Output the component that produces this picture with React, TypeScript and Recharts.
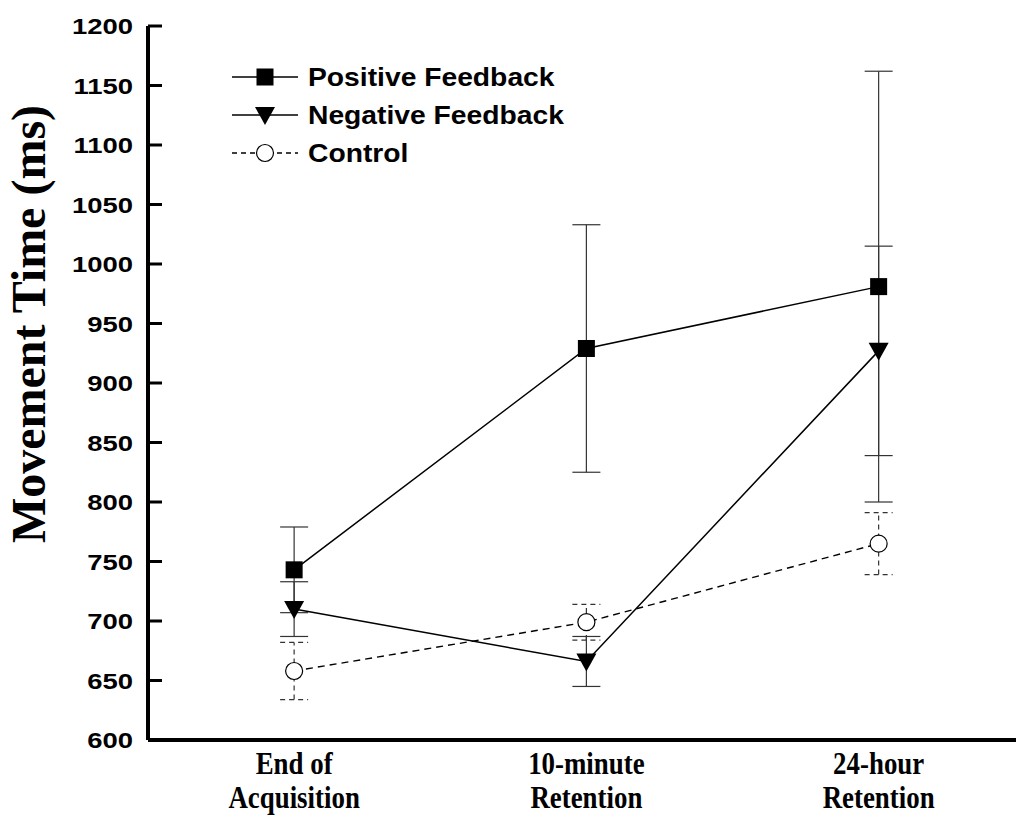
import React from 'react';
import { LineChart, Line, XAxis, YAxis, ErrorBar, Label } from 'recharts';

const categoryLines: string[][] = [
  ['End of', 'Acquisition'],
  ['10-minute', 'Retention'],
  ['24-hour', 'Retention'],
];
const positive = [743, 929, 981];
const positiveErr = [36, 104, 181];
const negative = [710, 666, 927];
const negativeErr = [23, 21, 88];
const control = [658, 699, 765];
const controlErr = [24, 15, 26];
const yTicks = [600, 650, 700, 750, 800, 850, 900, 950, 1000, 1050, 1100, 1150, 1200];
const seriesNames = ['Positive Feedback', 'Negative Feedback', 'Control'];

const data = categoryLines.map((_, i) => ({
  x: i,
  pos: positive[i],
  posErr: positiveErr[i],
  neg: negative[i],
  negErr: negativeErr[i],
  ctrl: control[i],
  ctrlErr: controlErr[i],
}));

const SANS = "'Liberation Sans', Arial, sans-serif";
const SERIF = "'Liberation Serif', 'Times New Roman', serif";

const Square = ({ cx, cy }: { cx: number; cy: number }) => (
  <rect x={cx - 8.5} y={cy - 8.5} width={17} height={17} fill="#000" />
);
const Triangle = ({ cx, cy }: { cx: number; cy: number }) => (
  <polygon points={`${cx - 10},${cy - 8} ${cx + 10},${cy - 8} ${cx},${cy + 10}`} fill="#000" />
);
const Circle = ({ cx, cy }: { cx: number; cy: number }) => (
  <circle cx={cx} cy={cy} r={8.5} fill="#fff" stroke="#000" strokeWidth={1.2} />
);

const makeDot = (Shape: any) => (props: any) => {
  const { cx, cy, index } = props;
  if (cx == null || cy == null) return <g key={`d-${index}`} />;
  return (
    <g key={`d-${index}`}>
      <Shape cx={cx} cy={cy} />
    </g>
  );
};

const YTick = (props: any) => {
  const { x, y, payload } = props;
  return (
    <g>
      <line x1={x} x2={x + 14} y1={y} y2={y} stroke="#000" strokeWidth={3} />
      <text
        transform={`translate(${x - 15},${y + 8}) scale(1.22,1)`}
        textAnchor="end"
        fontFamily={SANS}
        fontWeight="bold"
        fontSize={22.5}
        fill="#000"
      >
        {payload.value}
      </text>
    </g>
  );
};

const XTick = (props: any) => {
  const { x, y, payload } = props;
  const lines = categoryLines[payload.value] || [];
  return (
    <g>
      {lines.map((t, i) => (
        <text
          key={i}
          transform={`translate(${x},${y + 34 + i * 34}) scale(0.84,1)`}
          textAnchor="middle"
          fontFamily={SERIF}
          fontWeight="bold"
          fontSize={32}
          fill="#000"
        >
          {t}
        </text>
      ))}
    </g>
  );
};

const YLabel = () => {
  const cx = 45;
  const cy = 324;
  return (
    <text
      x={cx}
      y={cy}
      transform={`rotate(-90, ${cx}, ${cy})`}
      textAnchor="middle"
      fontFamily={SERIF}
      fontWeight="bold"
      fontSize={48}
      fill="#000"
    >
      Movement Time (ms)
    </text>
  );
};

const LegendBox = () => {
  const shapes = [Square, Triangle, Circle];
  const dashes = [undefined, undefined, '5 4'];
  return (
    <div style={{ position: 'absolute', left: 226, top: 58, display: 'flex', flexDirection: 'column' }}>
      {seriesNames.map((name, i) => {
        const S = shapes[i];
        return (
          <div key={name} style={{ display: 'flex', alignItems: 'center', height: 38 }}>
            <svg width={82} height={38} style={{ display: 'block' }}>
              <line x1={6} x2={72} y1={19} y2={19} stroke="#000" strokeWidth={1.5} strokeDasharray={dashes[i]} />
              <S cx={39} cy={19} />
            </svg>
            <span
              style={{
                fontFamily: SANS,
                fontWeight: 'bold',
                fontSize: 25,
                color: '#000',
                lineHeight: '38px',
                whiteSpace: 'nowrap',
                display: 'inline-block',
                transform: 'scaleX(1.13)',
                transformOrigin: 'left center',
              }}
            >
              {name}
            </span>
          </div>
        );
      })}
    </div>
  );
};

export default function App() {
  return (
    <div style={{ position: 'absolute', left: 0, top: 0, width: 1018, height: 817, background: '#fff' }}>
      <LineChart width={1018} height={817} data={data} margin={{ top: 26, right: 2, bottom: 0, left: 8 }}>
        <XAxis
          dataKey="x"
          type="number"
          domain={[-0.5, 2.47]}
          ticks={[0, 1, 2]}
          allowDataOverflow
          tickLine={false}
          tickSize={0}
          tickMargin={0}
          axisLine={{ stroke: '#000', strokeWidth: 4 }}
          tick={<XTick />}
          interval={0}
          height={77}
        />
        <YAxis
          type="number"
          domain={[600, 1200]}
          ticks={yTicks}
          width={140}
          tickLine={false}
          tickSize={0}
          tickMargin={0}
          axisLine={{ stroke: '#000', strokeWidth: 4 }}
          tick={<YTick />}
          interval={0}
        >
          <Label content={<YLabel />} />
        </YAxis>
        <Line
          dataKey="ctrl"
          stroke="#000"
          strokeWidth={1.4}
          strokeDasharray="7 5"
          dot={makeDot(Circle)}
          activeDot={false}
          isAnimationActive={false}
        >
          <ErrorBar dataKey="ctrlErr" width={14} stroke="#333" strokeWidth={1.2} strokeDasharray="5 4" direction="y" />
        </Line>
        <Line
          dataKey="neg"
          stroke="#000"
          strokeWidth={1.5}
          dot={makeDot(Triangle)}
          activeDot={false}
          isAnimationActive={false}
        >
          <ErrorBar dataKey="negErr" width={14} stroke="#333" strokeWidth={1.2} direction="y" />
        </Line>
        <Line
          dataKey="pos"
          stroke="#000"
          strokeWidth={1.5}
          dot={makeDot(Square)}
          activeDot={false}
          isAnimationActive={false}
        >
          <ErrorBar dataKey="posErr" width={14} stroke="#333" strokeWidth={1.2} direction="y" />
        </Line>
      </LineChart>
      <LegendBox />
    </div>
  );
}
